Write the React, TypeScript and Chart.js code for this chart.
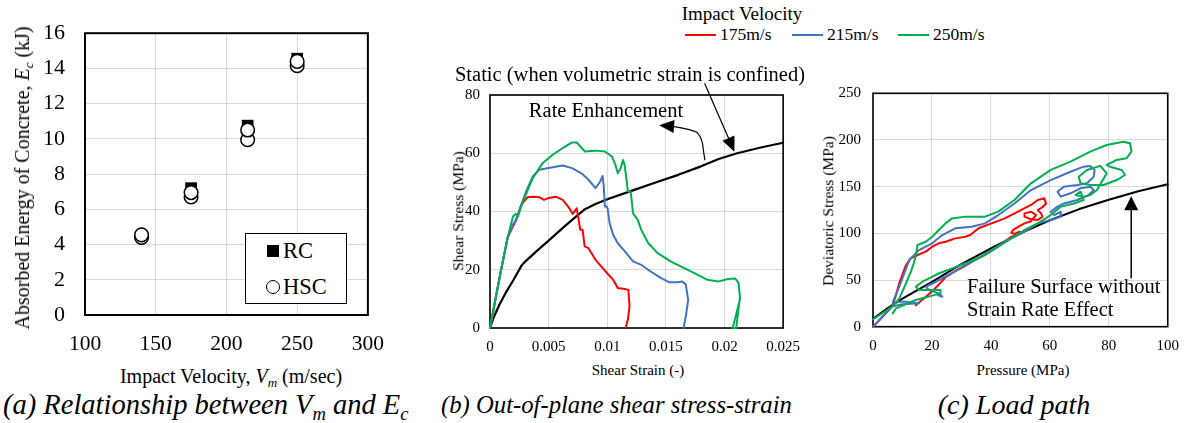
import React, { useEffect, useRef } from "react";
import { Chart, registerables } from "chart.js";

Chart.register(...registerables);

const SERIF = "'Liberation Serif', 'Times New Roman', Times, serif";

// ---------- (a) absorbed energy ----------
const rcVelocity = [175, 215, 250];
const rcEnergy = [7.2, 10.75, 14.55];
const hscVelocity = [140, 140, 175, 175, 215, 215, 250, 250];
const hscEnergy = [4.4, 4.55, 6.7, 6.95, 9.95, 10.5, 14.15, 14.4];

// ---------- (b) shear stress-strain ----------
const staticStrain = [0, 0.0003, 0.0008, 0.0014, 0.002, 0.0027, 0.003, 0.004, 0.005, 0.006, 0.007, 0.0081, 0.009, 0.01, 0.012, 0.014, 0.016, 0.018, 0.0195, 0.021, 0.023, 0.025];
const staticStress = [0, 3.5, 8, 12.5, 16.5, 21.5, 22.8, 26.5, 30, 33.6, 37.1, 40.8, 42.6, 44.2, 47, 49.8, 52.5, 55.5, 58, 59.9, 61.9, 63.6];

const strain175 = [0, 0.0008, 0.0015, 0.00196, 0.00224, 0.00266, 0.0032, 0.0037, 0.0042, 0.0046, 0.005, 0.0056, 0.0062, 0.0067, 0.00705, 0.0074, 0.00756, 0.0077, 0.0079, 0.00807, 0.0084, 0.009, 0.0095, 0.0101, 0.0105, 0.0109, 0.0115, 0.0118, 0.0119, 0.01176, 0.01157];
const stress175 = [0, 17, 31, 34.9, 37.1, 42.3, 44.9, 45.1, 44.9, 44, 44.6, 45.1, 44, 41.5, 39.2, 41.1, 37.1, 33.7, 33.7, 28, 27.4, 23.4, 21.1, 18.3, 16.6, 13.7, 13.4, 13.1, 7.4, 2.9, 0];

const strain215 = [0, 0.0008, 0.0015, 0.00196, 0.0022, 0.0026, 0.00308, 0.00364, 0.0042, 0.005, 0.0062, 0.007, 0.0078, 0.0084, 0.009, 0.0094, 0.0096, 0.0097, 0.0098, 0.0099, 0.01003, 0.0102, 0.0105, 0.0109, 0.0115, 0.0122, 0.0129, 0.0137, 0.0146, 0.0153, 0.016, 0.0164, 0.0167, 0.0169, 0.0167, 0.0165];
const stress215 = [0, 17, 31, 35.5, 37, 41.5, 46.9, 52, 54.3, 54.9, 55.8, 54.9, 53.1, 50.9, 48, 50.3, 52.2, 48.6, 41.7, 41.9, 41.1, 36, 32, 29.1, 26.3, 22.9, 21.7, 19.4, 17.1, 15.7, 15.7, 16, 14.9, 9.7, 4, 0];

const strain250 = [0, 0.0008, 0.0015, 0.00196, 0.00218, 0.00238, 0.0028, 0.00364, 0.00448, 0.00532, 0.00616, 0.007, 0.0074, 0.0077, 0.0081, 0.009, 0.0098, 0.0104, 0.0107, 0.0109, 0.01115, 0.01134, 0.01148, 0.01163, 0.01176, 0.012, 0.0122, 0.0126, 0.0129, 0.0135, 0.0143, 0.0154, 0.0163, 0.0174, 0.0185, 0.0195, 0.0203, 0.0209, 0.0212, 0.02133, 0.0207, 0.021, 0.0213];
const stress250 = [0, 17, 31, 38.3, 39.2, 38.3, 43.4, 51.4, 56.6, 59.4, 61.7, 63.7, 63.7, 62.3, 60.6, 60.9, 60.6, 58.9, 56, 53.1, 54.9, 57.7, 56, 51.4, 46.9, 46.9, 39.4, 37.1, 33.7, 29.1, 25.7, 22.9, 21.1, 18.9, 16.6, 16, 16.8, 17, 15.5, 10, 0, 0, 10];

// ---------- (c) load path ----------
const failP = [0, 5, 10, 20, 30, 40, 50, 60, 70, 80, 90, 100];
const failQ = [8.5, 20, 30, 48, 67, 84, 100, 114, 126, 136, 145, 152.5];

const p175 = [0, 2.2, 4.5, 6.7, 7.8, 8.9, 10.1, 11.2, 12.8, 15.1, 17.9, 20.1, 22.3, 24.6, 27.9, 31.3, 33, 35.8, 40.2, 44.7, 49.2, 53.6, 55.9, 58.1, 58.7, 57.5, 55.9, 57, 57.5, 55.9, 53.6, 51.4, 51.4, 53.6, 55.3, 53.6, 51.4, 49.2, 47.5, 46.9, 48, 49.7, 50.3, 48.5, 46.9, 42.5, 38, 33.5, 29.1, 24.6, 22.3, 20.1, 17.9, 15.6, 14.5];
const q175 = [0, 7, 15, 23.2, 34, 46.4, 57, 66, 73.2, 76.8, 80.4, 85.7, 89.3, 91, 94.6, 96.4, 98.2, 105.4, 110.7, 116, 123.2, 130.4, 135.7, 137.5, 132, 128, 125, 121.4, 117.9, 114.3, 115, 117.9, 121.4, 123.2, 119.6, 113, 110.7, 107, 103.6, 100.7, 99.3, 101.8, 100, 98, 96.4, 86, 77, 69.5, 62, 53, 45, 38, 32, 26, 23];

const p215 = [0, 3, 6.7, 10, 15.6, 10.5, 6.7, 8.9, 12.3, 15.6, 20.1, 23.5, 27.9, 33.5, 38, 42.5, 48, 53.6, 60.3, 67, 71.5, 73.7, 75.2, 74.9, 72.6, 69.3, 64.8, 62.6, 63.7, 67, 70.4, 73.7, 74.9, 73.2, 69.3, 64.8, 62.6, 60.3, 61.5, 63.7, 63.7, 60.3, 55.9, 51.4, 44.7, 38, 31.3, 24.6, 20.1, 17.9, 19, 22.3, 23.5, 22];
const q215 = [0, 10, 22, 24, 25, 27, 26, 42.9, 71.4, 82, 89.3, 98.2, 105.4, 107, 110.7, 119.6, 132, 146.4, 157, 166, 171.4, 172, 167.9, 160.7, 153.6, 151.8, 150, 144.6, 139.3, 142.9, 148.2, 150, 146.4, 141, 135.7, 132, 128.6, 123.2, 119.6, 123.2, 117.9, 114.3, 110.7, 101.8, 91, 78, 65, 54, 46, 42.9, 39.3, 35.7, 32, 34];

const p250 = [0, 3.5, 6.7, 8.9, 11, 13, 14.5, 15.1, 17.9, 20.1, 22.3, 24.6, 26.8, 31.3, 38, 42.5, 48, 53.6, 60.3, 67, 73.7, 79.3, 84.9, 87.2, 87.7, 86, 82.7, 79.3, 80.4, 84.4, 85.5, 82.7, 78.2, 73.7, 70.4, 69.8, 72.6, 77.1, 79.3, 76, 73.7, 71.5, 68.7, 70.4, 71.5, 68.2, 63.7, 60.3, 55.9, 51.4, 46.9, 42.5, 38, 31.3, 26.8, 22.3, 19, 16.8, 14.5, 15.6, 20.1, 22.9, 22.9, 14.5, 7.8, 6.7];
const q250 = [8, 15, 22, 30, 45, 60, 75, 87.5, 91, 96.4, 103.6, 110.7, 116, 117.9, 117.9, 123.2, 135.7, 153.6, 167.9, 176.8, 187.5, 194.6, 198.2, 196.4, 187.5, 180.4, 178.6, 173.2, 171.4, 167.9, 162.5, 157.1, 151.8, 151.8, 153.6, 160.7, 167.9, 172.3, 164.3, 146.4, 141, 139.3, 141, 144.6, 135.7, 132, 128.6, 119.6, 110.7, 103.6, 94.6, 85.7, 76.8, 67.9, 62.5, 57, 51.8, 48.2, 42.9, 39.3, 39.3, 39.3, 35.7, 28.6, 19.6, 14.3];

// legend
const velocityLabels = ["175m/s", "215m/s", "250m/s"];
const velocityColors = ["#FF0000", "#4472C4", "#00B050"];

// annotation anchors (data coordinates)
const staticArrowTail = [0.0183, 84];
const staticArrowTip = [0.02085, 60.5];
const rateArrowPath = [[0.01833, 57.6], [0.01822, 60.5], [0.01812, 63.5], [0.01795, 65.6], [0.01765, 67.2], [0.017, 68.1], [0.0162, 68.8], [0.0156, 69.2]];
const rateArrowTip = [0.01442, 69.6];
const failArrowTail = [87.6, 52];
const failArrowTip = [87.6, 139.6];

const zip = (xs: number[], ys: number[]) => xs.map((x, i) => ({ x, y: ys[i] }));

const framePlugin = {
  id: "frame",
  beforeDatasetsDraw(chart: any, _a: any, opts: any) {
    const { ctx, chartArea: a } = chart;
    ctx.save();
    ctx.strokeStyle = "#000";
    ctx.lineWidth = opts.width || 1.5;
    ctx.strokeRect(a.left, a.top, a.right - a.left, a.bottom - a.top);
    ctx.restore();
  },
};

function arrowHead(ctx: CanvasRenderingContext2D, tip: number[], from: number[], len: number, halfW: number) {
  const ang = Math.atan2(tip[1] - from[1], tip[0] - from[0]);
  const c = Math.cos(ang), s = Math.sin(ang);
  const bx = tip[0] - len * c, by = tip[1] - len * s;
  ctx.beginPath();
  ctx.moveTo(tip[0], tip[1]);
  ctx.lineTo(bx + halfW * s, by - halfW * c);
  ctx.lineTo(bx - halfW * s, by + halfW * c);
  ctx.closePath();
  ctx.fill();
}

const annotBPlugin = {
  id: "annotB",
  afterDatasetsDraw(chart: any) {
    const { ctx, scales } = chart;
    const P = (p: number[]) => [scales.x.getPixelForValue(p[0]), scales.y.getPixelForValue(p[1])];
    ctx.save();
    ctx.strokeStyle = "#000";
    ctx.fillStyle = "#000";
    ctx.lineWidth = 1.2;
    const t = P(staticArrowTail), h = P(staticArrowTip);
    const ang = Math.atan2(h[1] - t[1], h[0] - t[0]);
    ctx.beginPath();
    ctx.moveTo(t[0], t[1]);
    ctx.lineTo(h[0] - 12 * Math.cos(ang), h[1] - 12 * Math.sin(ang));
    ctx.stroke();
    arrowHead(ctx, h, t, 15, 6.5);
    const pts = rateArrowPath.map(P);
    ctx.beginPath();
    ctx.moveTo(pts[0][0], pts[0][1]);
    for (let i = 1; i < pts.length; i++) ctx.lineTo(pts[i][0], pts[i][1]);
    ctx.stroke();
    arrowHead(ctx, P(rateArrowTip), pts[pts.length - 1], 15, 6.5);
    ctx.restore();
  },
};

const annotCPlugin = {
  id: "annotC",
  afterDatasetsDraw(chart: any) {
    const { ctx, scales } = chart;
    const P = (p: number[]) => [scales.x.getPixelForValue(p[0]), scales.y.getPixelForValue(p[1])];
    ctx.save();
    ctx.strokeStyle = "#000";
    ctx.fillStyle = "#000";
    ctx.lineWidth = 1.5;
    const t = P(failArrowTail), h = P(failArrowTip);
    ctx.beginPath();
    ctx.moveTo(t[0], t[1]);
    ctx.lineTo(h[0], h[1] + 12);
    ctx.stroke();
    arrowHead(ctx, h, t, 14, 7);
    ctx.restore();
  },
};

const gridOpts = { color: "#d9d9d9", lineWidth: 1, drawTicks: false };

function buildA() {
  return {
    type: "scatter",
    data: {
      datasets: [
        { label: "HSC", data: zip(hscVelocity, hscEnergy), pointStyle: "circle", pointRadius: 6.8, pointBackgroundColor: "#fff", pointBorderColor: "#000", pointBorderWidth: 1.5, clip: false },
        { label: "RC", data: zip(rcVelocity, rcEnergy), pointStyle: "rect", pointRadius: 8.3, pointBackgroundColor: "#000", pointBorderColor: "#000", pointBorderWidth: 0, clip: false },
      ],
    },
    options: {
      responsive: false,
      animation: false,
      events: [],
      layout: { padding: { top: 23, right: 22, left: 0, bottom: 0 } },
      plugins: { legend: { display: false }, tooltip: { enabled: false }, frame: { width: 2 } },
      scales: {
        x: {
          type: "linear", min: 100, max: 300,
          ticks: { stepSize: 50, font: { family: SERIF, size: 21.5 }, color: "#000", padding: 16 },
          grid: gridOpts, border: { display: false },
          afterFit: (s: any) => { s.height = 45; },
        },
        y: {
          type: "linear", min: 0, max: 16,
          ticks: { stepSize: 2, font: { family: SERIF, size: 22 }, color: "#000", padding: 20 },
          grid: gridOpts, border: { display: false },
          afterFit: (s: any) => { s.width = 85; },
        },
      },
    },
    plugins: [framePlugin],
  };
}

function lineSet(label: string, xs: number[], ys: number[], color: string, width: number) {
  return { label, data: zip(xs, ys), showLine: true, borderColor: color, backgroundColor: color, borderWidth: width, pointRadius: 0, tension: 0, clip: false, borderJoinStyle: "round", borderCapStyle: "round" };
}

function buildB() {
  return {
    type: "scatter",
    data: {
      datasets: [
        lineSet("250m/s", strain250, stress250, velocityColors[2], 2),
        lineSet("215m/s", strain215, stress215, velocityColors[1], 2),
        lineSet("175m/s", strain175, stress175, velocityColors[0], 2),
        lineSet("Static", staticStrain, staticStress, "#000", 2.2),
      ],
    },
    options: {
      responsive: false,
      animation: false,
      events: [],
      layout: { padding: { top: 35, right: 22, left: 0, bottom: 0 } },
      plugins: { legend: { display: false }, tooltip: { enabled: false }, frame: { width: 1.6 } },
      scales: {
        x: {
          type: "linear", min: 0, max: 0.025,
          ticks: { stepSize: 0.005, font: { family: SERIF, size: 15 }, color: "#000", padding: 10, callback: (v: number) => String(Number(v.toFixed(3))) },
          grid: gridOpts, border: { display: false },
          afterFit: (s: any) => { s.height = 32; },
        },
        y: {
          type: "linear", min: 0, max: 80,
          ticks: { stepSize: 20, font: { family: SERIF, size: 15 }, color: "#000", padding: 10 },
          grid: gridOpts, border: { display: false },
          afterFit: (s: any) => { s.width = 60; },
        },
      },
    },
    plugins: [framePlugin, annotBPlugin],
  };
}

function buildC() {
  return {
    type: "scatter",
    data: {
      datasets: [
        lineSet("250m/s", p250, q250, velocityColors[2], 2),
        lineSet("215m/s", p215, q215, velocityColors[1], 2),
        lineSet("175m/s", p175, q175, velocityColors[0], 2),
        lineSet("Failure surface", failP, failQ, "#000", 2),
      ],
    },
    options: {
      responsive: false,
      animation: false,
      events: [],
      layout: { padding: { top: 33.3, right: 17, left: 0, bottom: 0 } },
      plugins: { legend: { display: false }, tooltip: { enabled: false }, frame: { width: 1.6 } },
      scales: {
        x: {
          type: "linear", min: 0, max: 100,
          ticks: { stepSize: 20, font: { family: SERIF, size: 15 }, color: "#000", padding: 10 },
          grid: gridOpts, border: { display: false },
          afterFit: (s: any) => { s.height = 33.3; },
        },
        y: {
          type: "linear", min: 0, max: 250,
          ticks: { stepSize: 50, font: { family: SERIF, size: 15 }, color: "#000", padding: 12 },
          grid: gridOpts, border: { display: false },
          afterFit: (s: any) => { s.width = 63; },
        },
      },
    },
    plugins: [framePlugin, annotCPlugin],
  };
}

function useChart(build: () => any) {
  const ref = useRef<HTMLCanvasElement>(null);
  useEffect(() => {
    const chart = new Chart(ref.current as HTMLCanvasElement, build());
    return () => chart.destroy();
  }, []);
  return ref;
}

const Sub = ({ children, italic }: any) => (
  <span style={{ fontSize: "0.65em", position: "relative", top: "0.3em", fontStyle: italic ? "italic" : undefined }}>{children}</span>
);

function Txt({ x, y, size, rotate, italic, anchor, children }: any) {
  const tx = anchor === "left" ? "0" : "-50%";
  return (
    <div
      style={{
        position: "absolute",
        left: x,
        top: y,
        fontSize: size,
        lineHeight: 1,
        whiteSpace: "nowrap",
        fontStyle: italic ? "italic" : "normal",
        transform: `translate(${tx}, -50%)${rotate ? ` rotate(${rotate}deg)` : ""}`,
      }}
    >
      {children}
    </div>
  );
}

export default function App() {
  const refA = useChart(buildA);
  const refB = useChart(buildB);
  const refC = useChart(buildC);

  const legendX = [685, 792, 898];

  return (
    <div style={{ position: "absolute", left: 0, top: 0, width: 1189, height: 423, background: "#fff", overflow: "hidden", fontFamily: SERIF, color: "#000" }}>
      <canvas ref={refA} width={400} height={360} style={{ position: "absolute", left: 0, top: 0 }} />
      <canvas ref={refB} width={380} height={300} style={{ position: "absolute", left: 430, top: 60 }} />
      <canvas ref={refC} width={379} height={300} style={{ position: "absolute", left: 810, top: 60 }} />

      {/* (a) texts */}
      <Txt x={22} y={178} size={20} rotate={-90}>
        Absorbed Energy of Concrete, <i>E</i><Sub italic>c</Sub> (kJ)
      </Txt>
      <Txt x={231} y={376} size={20}>
        Impact Velocity, <i>V</i><Sub italic>m</Sub> (m/sec)
      </Txt>
      <Txt x={3} y={405} size={28.5} italic anchor="left">
        (a) Relationship between V<Sub italic>m</Sub> and E<Sub italic>c</Sub>
      </Txt>
      <div style={{ position: "absolute", left: 245, top: 233, width: 102, height: 71, border: "1.5px solid #000", boxSizing: "border-box", background: "#fff" }} />
      <div style={{ position: "absolute", left: 266.5, top: 245, width: 12, height: 12, background: "#000" }} />
      <div style={{ position: "absolute", left: 265.5, top: 280, width: 14, height: 14, borderRadius: "50%", border: "1.5px solid #000", boxSizing: "border-box", background: "#fff" }} />
      <Txt x={283} y={251} size={22.5} anchor="left">RC</Txt>
      <Txt x={283} y={287} size={22.5} anchor="left">HSC</Txt>

      {/* shared legend */}
      <Txt x={742} y={13} size={19}>Impact Velocity</Txt>
      {velocityLabels.map((lab, i) => (
        <React.Fragment key={lab}>
          <div style={{ position: "absolute", left: legendX[i], top: 33.5, width: 31, height: 2, background: velocityColors[i] }} />
          <Txt x={legendX[i] + 35} y={35} size={17.5} anchor="left">{lab}</Txt>
        </React.Fragment>
      ))}

      {/* (b) texts */}
      <Txt x={630} y={74} size={20.5}>Static (when volumetric strain is confined)</Txt>
      <Txt x={606} y={110} size={20.5}>Rate Enhancement</Txt>
      <Txt x={458} y={211} size={15.5} rotate={-90}>Shear Stress (MPa)</Txt>
      <Txt x={638} y={370} size={15}>Shear Strain (-)</Txt>
      <Txt x={441} y={405} size={24.7} italic anchor="left">(b) Out-of-plane shear stress-strain</Txt>

      {/* (c) texts */}
      <Txt x={828} y={211} size={15.5} rotate={-90}>Deviatoric Stress (MPa)</Txt>
      <Txt x={1023} y={370} size={15}>Pressure (MPa)</Txt>
      <Txt x={967} y={285.5} size={20.5} anchor="left">Failure Surface without</Txt>
      <Txt x={967} y={309} size={20.5} anchor="left">Strain Rate Effect</Txt>
      <Txt x={1014} y={405} size={28} italic>(c) Load path</Txt>
    </div>
  );
}
